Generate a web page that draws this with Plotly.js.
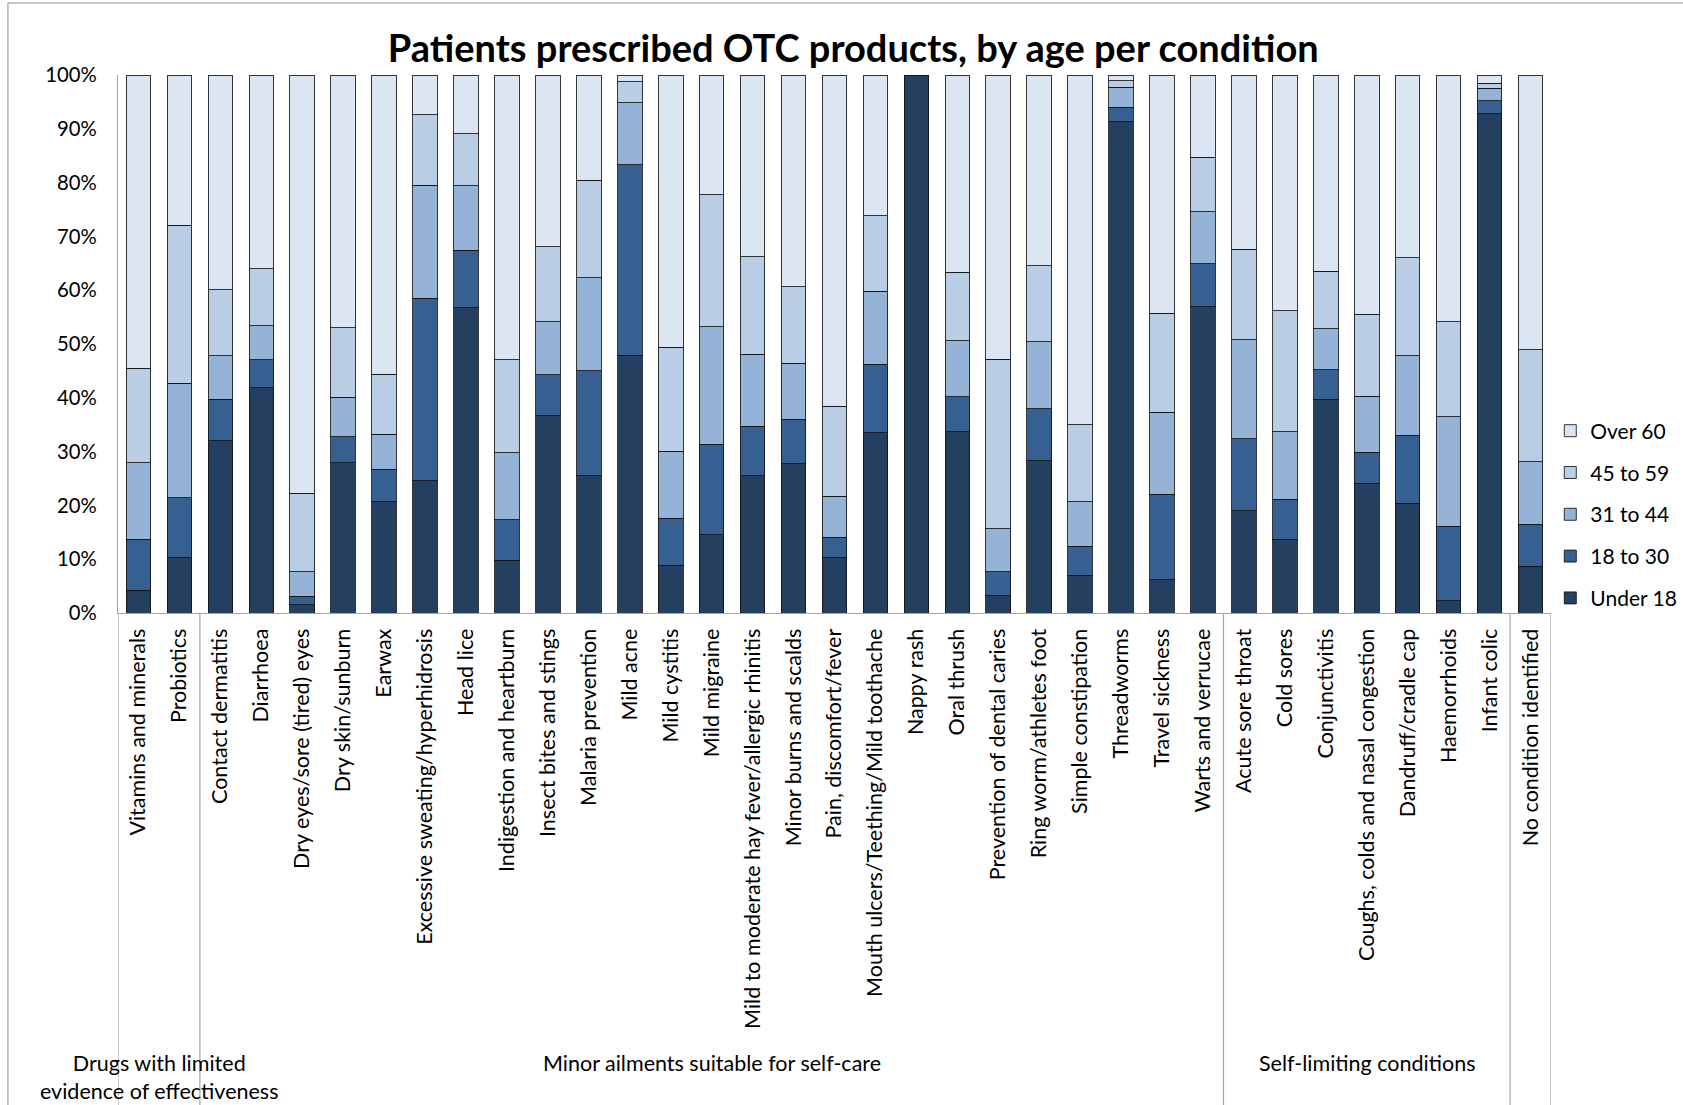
<!DOCTYPE html>
<html>
<head>
<meta charset="utf-8">
<script src="https://cdn.plot.ly/plotly-3.0.1.min.js"></script>
<style>html,body{margin:0;padding:0;background:#fff;}#chart{width:1683px;height:1105px;}</style>
</head>
<body>
<div id="chart"></div>
<script>
// ---- DATA ----
const categories = [
  "Vitamins and minerals", "Probiotics",
  "Contact dermatitis", "Diarrhoea", "Dry eyes/sore (tired) eyes", "Dry skin/sunburn", "Earwax",
  "Excessive sweating/hyperhidrosis", "Head lice", "Indigestion and heartburn", "Insect bites and stings",
  "Malaria prevention", "Mild acne", "Mild cystitis", "Mild migraine",
  "Mild to moderate hay fever/allergic rhinitis", "Minor burns and scalds", "Pain, discomfort/fever",
  "Mouth ulcers/Teething/Mild toothache", "Nappy rash", "Oral thrush", "Prevention of dental caries",
  "Ring worm/athletes foot", "Simple constipation", "Threadworms", "Travel sickness", "Warts and verrucae",
  "Acute sore throat", "Cold sores", "Conjunctivitis", "Coughs, colds and nasal congestion",
  "Dandruff/cradle cap", "Haemorrhoids", "Infant colic",
  "No condition identified"
];
const groupNames = ["Drugs with limited<br>evidence of effectiveness", "Minor ailments suitable for self-care", "Self-limiting conditions", ""];
const groupSizes = [2, 25, 7, 1];

const seriesNames = ["Under 18", "18 to 30", "31 to 44", "45 to 59", "Over 60"];
const under18 = [4.2,10.4,32.0,41.9,1.5,27.9,20.7,24.6,56.7,9.8,36.7,25.5,47.9,8.9,14.5,25.5,27.7,10.4,33.5,100,33.7,3.2,28.3,7.0,91.3,6.2,56.9,19.0,13.7,39.7,24.1,20.4,2.3,92.8,8.7];
const age18to30 = [9.5,11.0,7.7,5.2,1.6,4.9,6.0,33.9,10.7,7.5,7.6,19.5,35.4,8.7,16.9,9.2,8.3,3.7,12.7,0,6.5,4.5,9.7,5.4,2.7,15.9,8.0,13.4,7.4,5.5,5.8,12.6,13.8,2.4,7.8];
const age31to44 = [14.2,21.3,8.1,6.3,4.6,7.3,6.5,21.0,12.0,12.5,9.8,17.3,11.5,12.5,21.8,13.4,10.4,7.6,13.6,0,10.4,8.0,12.4,8.3,3.7,15.2,9.7,18.4,12.6,7.6,10.4,14.8,20.4,2.3,11.6];
const age45to59 = [17.6,29.4,12.3,10.6,14.6,12.9,11.2,13.1,9.7,17.3,14.0,18.1,3.9,19.3,24.5,18.1,14.2,16.7,14.0,0,12.7,31.5,14.1,14.3,1.2,18.4,10.1,16.8,22.5,10.7,15.2,18.2,17.6,1.0,20.8];
const over60 = [54.5,27.9,39.9,36.0,77.7,47.0,55.6,7.4,10.9,52.9,31.9,19.6,1.3,50.6,22.3,33.8,39.4,61.6,26.2,0,36.7,52.8,35.5,65.0,1.1,44.3,15.3,32.4,43.8,36.5,44.5,34.0,45.9,1.5,51.1];
const seriesValues = [under18, age18to30, age31to44, age45to59, over60];
const yTickVals = [0,10,20,30,40,50,60,70,80,90,100];
const yTickText = ["0%","10%","20%","30%","40%","50%","60%","70%","80%","90%","100%"];

// ---- STYLE ----
const colors = ["#243F60", "#366092", "#95B3D7", "#B9CDE5", "#DCE6F2"];
const FONT = "Lato, 'Open Sans', sans-serif";

const traces = seriesNames.map((n, i) => ({
  type: "bar",
  name: n,
  x: categories,
  y: seriesValues[i],
  legendgroup: "g" + i,
  legendrank: seriesNames.length - i,
  marker: { color: colors[i], line: { color: "rgba(20,20,20,0.85)", width: 1 } },
  hoverinfo: "x+y+name"
}));

// group separators & labels built from group sizes
const shapes = [];
const annotations = [];
let start = 0;
const yBottom = -0.93;
shapes.push({ type: "line", xref: "x", yref: "paper", x0: -0.5, x1: -0.5, y0: 0, y1: yBottom, line: { color: "#A6A6A6", width: 1.2 } });
groupSizes.forEach((sz, gi) => {
  const end = start + sz;
  shapes.push({ type: "line", xref: "x", yref: "paper", x0: end - 0.5, x1: end - 0.5, y0: 0, y1: yBottom, line: { color: "#A6A6A6", width: 1.2 } });
  if (groupNames[gi]) {
    annotations.push({
      xref: "x", yref: "paper", x: (start + end - 1) / 2, y: -0.808, yanchor: "top", xanchor: "center",
      text: groupNames[gi], showarrow: false, font: { family: FONT, size: 21.5, color: "#000" }, align: "center"
    });
  }
  start = end;
});
// chart area border (top & left visible)
shapes.push({ type: "rect", xref: "paper", yref: "paper", x0: -0.0768, x1: 1.2, y0: -1.0, y1: 1.1338, line: { color: "#8C8C8C", width: 1 }, fillcolor: "rgba(0,0,0,0)" });

const layout = {
  width: 1683, height: 1105,
  margin: { l: 118, r: 132, t: 75, b: 492, autoexpand: false },
  paper_bgcolor: "#fff", plot_bgcolor: "#fff",
  barmode: "stack", barnorm: "percent", bargap: 0.4,
  title: { text: "<b>Patients prescribed OTC products, by age per condition</b>", x: 0.507, xref: "container", y: 0.956, yref: "container", yanchor: "middle", xanchor: "center", font: { family: FONT, size: 38, color: "#000" } },
  font: { family: FONT, color: "#000" },
  xaxis: {
    type: "category", tickangle: -90, showgrid: false, showline: true, linecolor: "#A6A6A6", linewidth: 1.2,
    ticks: "", tickfont: { family: FONT, size: 21.5, color: "#000" }, automargin: false, ticklabelstandoff: 6,
    range: [-0.5, categories.length - 0.5], fixedrange: true
  },
  yaxis: {
    range: [0, 100], tickvals: yTickVals, ticktext: yTickText, showgrid: false, zeroline: false,
    showline: true, linecolor: "#A6A6A6", linewidth: 1.2, ticks: "", tickfont: { family: FONT, size: 20.3, color: "#000" },
    automargin: false, ticklabelstandoff: 16, fixedrange: true
  },
  legend: {
    x: 0.9995, xanchor: "left", y: 0.183, yanchor: "middle", traceorder: "grouped", tracegroupgap: 11.5,
    font: { family: FONT, size: 21, color: "#000" }, bgcolor: "rgba(0,0,0,0)", itemwidth: 30
  },
  shapes: shapes,
  annotations: annotations,
  showlegend: true
};

Plotly.newPlot("chart", traces, layout, { displayModeBar: false, responsive: false });
</script>
</body>
</html>
